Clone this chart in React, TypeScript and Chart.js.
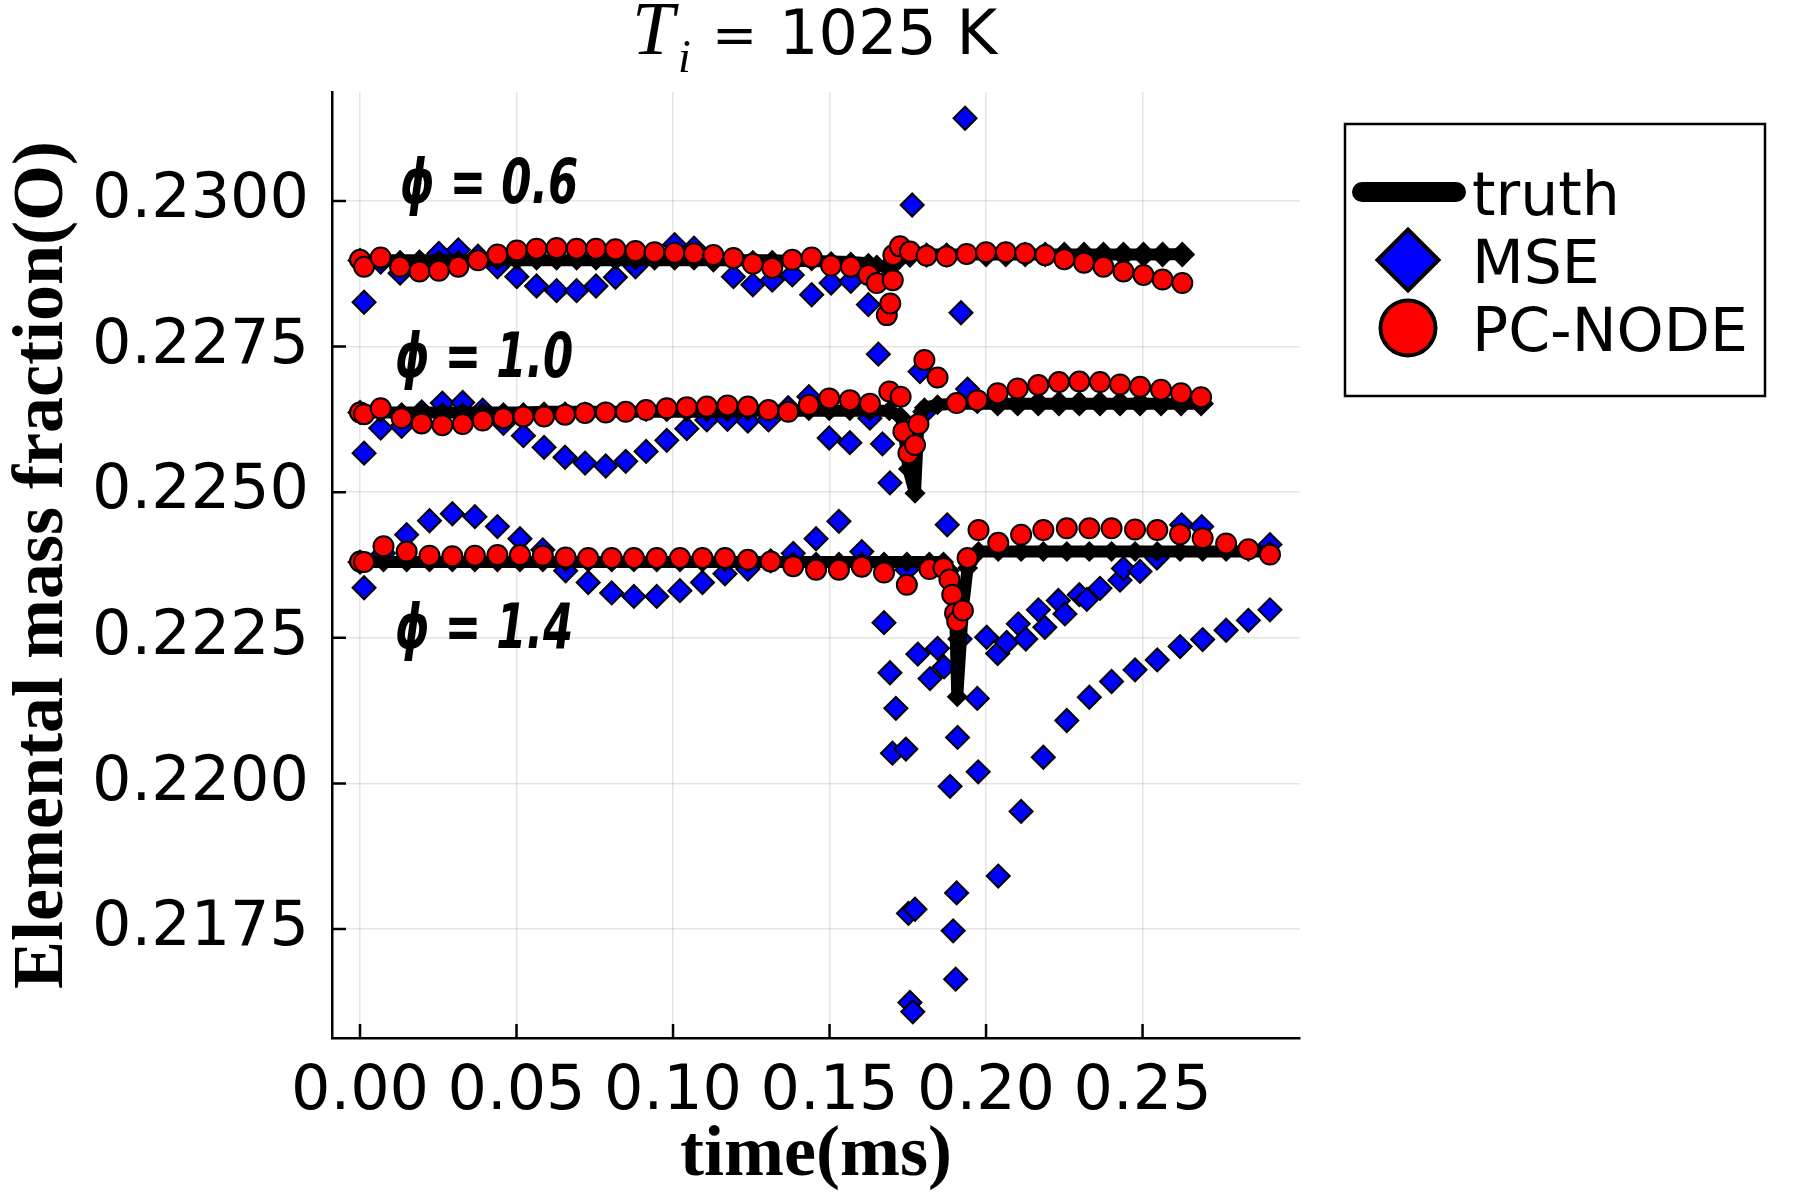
import React, { useEffect, useRef } from "react";
import { Chart, registerables, Plugin } from "chart.js";

Chart.register(...registerables);

// axis ticks
const xTicks = [0, 0.05, 0.1, 0.15, 0.2, 0.25];
const yTicks = [0.2175, 0.22, 0.2225, 0.225, 0.2275, 0.23];

// phi = 0.6
const pc06T = [0, 0.0013, 0.0066, 0.0128, 0.019, 0.0252, 0.0314, 0.0377, 0.0439, 0.0501,
  0.0564, 0.0628, 0.0692, 0.0754, 0.0816, 0.088, 0.0941, 0.1005, 0.1067, 0.1129,
  0.1193, 0.1255, 0.1317, 0.1381, 0.1443, 0.1505, 0.1568, 0.1624, 0.1651, 0.1683,
  0.1694, 0.1702, 0.1704, 0.1725, 0.1757, 0.181, 0.1874, 0.1938, 0.2, 0.2063,
  0.2125, 0.2189, 0.225, 0.2313, 0.2375, 0.2439, 0.2503, 0.2564, 0.2627];
const pc06Y = [0.22899, 0.22887, 0.22903, 0.22887, 0.22879, 0.2288, 0.22887, 0.22898, 0.22908, 0.22915,
  0.22918, 0.22919, 0.22918, 0.22918, 0.22917, 0.22914, 0.22912, 0.22911, 0.2291, 0.22907,
  0.22902, 0.22892, 0.22885, 0.22899, 0.22903, 0.22889, 0.22887, 0.22873, 0.22859, 0.22804,
  0.22824, 0.22864, 0.22907, 0.22922, 0.22913, 0.22906, 0.22905, 0.22909, 0.22912, 0.22912,
  0.2291, 0.22907, 0.229, 0.22894, 0.22887, 0.22879, 0.22873, 0.22865, 0.22859];
const truth06Y = [0.22898, 0.22898, 0.22898, 0.22898, 0.22898, 0.22898, 0.22898, 0.22898, 0.22898, 0.22898,
  0.22898, 0.22898, 0.22898, 0.22898, 0.22898, 0.22898, 0.22898, 0.22898, 0.22898, 0.22898,
  0.22898, 0.22898, 0.22898, 0.22897, 0.22897, 0.22896, 0.22895, 0.22893, 0.2289, 0.22886,
  0.22884, 0.22892, 0.229, 0.22907, 0.22908, 0.22908, 0.22908, 0.22908, 0.22908, 0.22908,
  0.22908, 0.22908, 0.22908, 0.22908, 0.22908, 0.22908, 0.22908, 0.22908, 0.22909];
const mse06T = [0, 0.0013, 0.0066, 0.0128, 0.019, 0.0252, 0.0314, 0.0377, 0.0439, 0.0501,
  0.0564, 0.0628, 0.0692, 0.0754, 0.0816, 0.088, 0.0941, 0.1005, 0.1067, 0.1129,
  0.1193, 0.1255, 0.1317, 0.1381, 0.1443, 0.1505, 0.1568, 0.1624, 0.1656, 0.1725,
  0.1757, 0.181, 0.1874, 0.192, 0.2, 0.2063, 0.2125, 0.2189, 0.225, 0.2313,
  0.2375, 0.2439, 0.2503, 0.2564, 0.2627];
const mse06Y = [0.22898, 0.22826, 0.22895, 0.22876, 0.22895, 0.2291, 0.22916, 0.22905, 0.22887, 0.2287,
  0.22854, 0.22846, 0.22846, 0.22854, 0.22869, 0.22887, 0.22908, 0.22925, 0.22919, 0.22899,
  0.2287, 0.22856, 0.22864, 0.22873, 0.22839, 0.22859, 0.22862, 0.22822, 0.22737, 0.22905,
  0.22907, 0.22907, 0.22907, 0.22808, 0.22908, 0.22908, 0.22908, 0.22908, 0.22908, 0.22908,
  0.22908, 0.22908, 0.22908, 0.22908, 0.22908];

// phi = 1.0
const pc10T = [0, 0.0013, 0.0066, 0.0133, 0.0197, 0.0263, 0.0328, 0.0392, 0.0458, 0.0522,
  0.0588, 0.0655, 0.0719, 0.0785, 0.0849, 0.0914, 0.098, 0.1044, 0.1108, 0.1174,
  0.1239, 0.1305, 0.1368, 0.1434, 0.1499, 0.1565, 0.1629, 0.1691, 0.1727, 0.1736,
  0.1752, 0.1773, 0.1784, 0.1803, 0.1845, 0.1906, 0.1972, 0.2037, 0.2101, 0.2167,
  0.2233, 0.2298, 0.2364, 0.2428, 0.2492, 0.2559, 0.2623, 0.2687];
const pc10Y = [0.22637, 0.22634, 0.22644, 0.22627, 0.22618, 0.22615, 0.22617, 0.22623, 0.22627, 0.2263,
  0.2263, 0.22633, 0.22636, 0.22637, 0.22638, 0.22641, 0.22644, 0.22646, 0.22647, 0.22649,
  0.22647, 0.22641, 0.22638, 0.2265, 0.22661, 0.22658, 0.22652, 0.22673, 0.22664, 0.22604,
  0.22567, 0.22581, 0.22617, 0.22727, 0.22697, 0.22653, 0.22658, 0.2267, 0.22678, 0.22684,
  0.22689, 0.2269, 0.22689, 0.22685, 0.22681, 0.22676, 0.2267, 0.22663];
const truth10Y = [0.22637, 0.22637, 0.22637, 0.22637, 0.22637, 0.22637, 0.22637, 0.22637, 0.22637, 0.22637,
  0.22638, 0.22638, 0.22638, 0.22638, 0.22638, 0.22638, 0.22638, 0.22638, 0.22638, 0.22638,
  0.2264, 0.2264, 0.2264, 0.2264, 0.2264, 0.2264, 0.2264, 0.2264, 0.2263, 0.2261,
  0.2254, 0.22498, 0.2262, 0.22645, 0.2265, 0.22652, 0.22652, 0.22652, 0.22652, 0.22652,
  0.22652, 0.22652, 0.22652, 0.22652, 0.22652, 0.22652, 0.22652, 0.22652];
const mse10T = [0, 0.0013, 0.0066, 0.0133, 0.0197, 0.0263, 0.0328, 0.0392, 0.0458, 0.0522,
  0.0588, 0.0655, 0.0719, 0.0785, 0.0849, 0.0914, 0.098, 0.1044, 0.1108, 0.1174,
  0.1239, 0.1305, 0.1368, 0.1434, 0.1499, 0.1565, 0.1629, 0.1669, 0.1693, 0.1764,
  0.1789, 0.1805, 0.1941, 0.2037, 0.2101, 0.2167, 0.2233, 0.2298, 0.2364, 0.2428,
  0.2492, 0.2559, 0.2623, 0.2687];
const mse10Y = [0.22637, 0.22567, 0.2261, 0.22613, 0.22638, 0.22653, 0.22654, 0.22641, 0.22618, 0.22597,
  0.22577, 0.2256, 0.2255, 0.22545, 0.22553, 0.2257, 0.22589, 0.22609, 0.22624, 0.22625,
  0.22622, 0.22624, 0.22645, 0.22664, 0.22593, 0.22585, 0.22627, 0.22583, 0.22516, 0.22993,
  0.22707, 0.22638, 0.22677, 0.22652, 0.22652, 0.22652, 0.22652, 0.22652, 0.22652, 0.22652,
  0.22652, 0.22652, 0.22652, 0.22652];

// phi = 1.4
const pc14T = [0, 0.0013, 0.0075, 0.0149, 0.0222, 0.0295, 0.0367, 0.0439, 0.0511, 0.0584,
  0.0657, 0.0729, 0.0804, 0.0875, 0.0948, 0.1022, 0.1094, 0.1166, 0.1239, 0.1312,
  0.1384, 0.1457, 0.153, 0.1603, 0.1674, 0.1747, 0.1819, 0.1864, 0.1883, 0.1892,
  0.1901, 0.1908, 0.1926, 0.1941, 0.1976, 0.2039, 0.2112, 0.2183, 0.2258, 0.233,
  0.2401, 0.2476, 0.2547, 0.262, 0.2692, 0.2767, 0.2838, 0.2907];
const pc14Y = [0.22381, 0.2238, 0.22407, 0.22398, 0.22391, 0.2239, 0.22391, 0.22392, 0.22392, 0.22391,
  0.22388, 0.22387, 0.22387, 0.22387, 0.22387, 0.22387, 0.22387, 0.22387, 0.22384, 0.22381,
  0.22373, 0.22367, 0.22367, 0.22372, 0.22362, 0.22341, 0.22368, 0.2237, 0.2235, 0.22324,
  0.22292, 0.22278, 0.22297, 0.22387, 0.22435, 0.22413, 0.22427, 0.22435, 0.22438, 0.22438,
  0.22438, 0.22436, 0.22435, 0.22428, 0.22421, 0.22412, 0.22402, 0.22393];
const truth14Y = [0.2238, 0.2238, 0.2238, 0.2238, 0.2238, 0.2238, 0.2238, 0.2238, 0.2238, 0.2238,
  0.2238, 0.2238, 0.2238, 0.2238, 0.2238, 0.2238, 0.2238, 0.2238, 0.2238, 0.2238,
  0.2238, 0.2238, 0.2238, 0.2238, 0.2238, 0.2238, 0.2238, 0.2238, 0.22365, 0.2234,
  0.223, 0.22149, 0.223, 0.2237, 0.22398, 0.22398, 0.22398, 0.22398, 0.22398, 0.22398,
  0.22398, 0.22398, 0.22398, 0.22398, 0.22398, 0.22398, 0.22398, 0.22398];
const mse14T = [0, 0.0013, 0.0075, 0.0149, 0.0222, 0.0295, 0.0367, 0.0439, 0.0511, 0.0584,
  0.0657, 0.0729, 0.0804, 0.0875, 0.0948, 0.1022, 0.1094, 0.1166, 0.1239, 0.1312,
  0.1384, 0.1457, 0.153, 0.1603, 0.1674, 0.1693, 0.1701, 0.1712, 0.1744, 0.1747,
  0.1752, 0.1757, 0.1766, 0.1773, 0.1782, 0.1821, 0.1845, 0.1866, 0.1876, 0.1885,
  0.1895, 0.1903, 0.1906, 0.1909, 0.1917, 0.1933, 0.1972, 0.1975, 0.2002, 0.2037,
  0.2039, 0.2066, 0.2103, 0.2112, 0.2127, 0.2167, 0.2183, 0.2188, 0.2231, 0.2252,
  0.2258, 0.2298, 0.2322, 0.233, 0.2364, 0.2401, 0.2428, 0.2439, 0.2476, 0.2492,
  0.2546, 0.2547, 0.262, 0.2625, 0.2689, 0.2692, 0.2767, 0.2838, 0.2907, 0.2907];
const mse14Y = [0.2238, 0.22336, 0.22395, 0.22427, 0.22451, 0.22463, 0.22458, 0.22441, 0.2242, 0.22401,
  0.22365, 0.22345, 0.22327, 0.22321, 0.22321, 0.22331, 0.22345, 0.2236, 0.22368, 0.22382,
  0.22395, 0.2242, 0.2245, 0.22398, 0.22276, 0.2219, 0.22052, 0.22129, 0.22059, 0.22367,
  0.21777, 0.21624, 0.21608, 0.21784, 0.22222, 0.2218, 0.22232, 0.222, 0.22444, 0.21995,
  0.21747, 0.21664, 0.21812, 0.22079, 0.22248, 0.23142, 0.22146, 0.2202, 0.22251, 0.22223,
  0.21841, 0.22242, 0.22274, 0.21952, 0.22248, 0.22298, 0.22045, 0.22268, 0.22314, 0.22291,
  0.22108, 0.22324, 0.22316, 0.22148, 0.22335, 0.22175, 0.22349, 0.22369, 0.22195, 0.22364,
  0.22387, 0.22212, 0.22235, 0.22444, 0.22441, 0.22247, 0.22263, 0.2228, 0.22298, 0.2241];

// case labels, anchored at (time, value) of their left baseline
const caseLabels = ["ϕ = 0.6", "ϕ = 1.0", "ϕ = 1.4"];
const caseLabelT = [0.0128, 0.0112, 0.0112];
const caseLabelY = [0.22997, 0.22698, 0.22233];

const X_MIN = -0.00895;
const X_MAX = 0.3003;
const Y_MIN = 0.21563;
const Y_MAX = 0.23187;

const W = 1800;
const H = 1200;
const SANS = '"DejaVu Sans"';
const SERIF = '"Liberation Serif"';

const pts = (ts: number[], ys: number[]) => ts.map((t, i) => ({ x: t, y: ys[i] }));

const pcStyle = {
  showLine: false,
  pointStyle: "circle" as const,
  pointRadius: 10,
  pointBackgroundColor: "rgb(255,0,0)",
  pointBorderColor: "#000",
  pointBorderWidth: 2,
};
const mseStyle = {
  showLine: false,
  pointStyle: "rectRot" as const,
  pointRadius: 11.5,
  pointBackgroundColor: "rgb(0,0,255)",
  pointBorderColor: "#000",
  pointBorderWidth: 2,
};
const truthStyle = {
  showLine: true,
  borderColor: "#000",
  borderWidth: 12,
  borderJoinStyle: "round" as const,
  pointStyle: "rectRot" as const,
  pointRadius: 10.5,
  pointBackgroundColor: "#000",
  pointBorderWidth: 0,
};

// small tick marks pointing into the plot
const innerTicks: Plugin = {
  id: "innerTicks",
  afterDraw(chart) {
    const { ctx, chartArea } = chart;
    const xs = chart.scales.x;
    const ys = chart.scales.y;
    ctx.save();
    ctx.strokeStyle = "#000";
    ctx.lineWidth = 2.5;
    ctx.beginPath();
    xs.ticks.forEach((t) => {
      const px = xs.getPixelForValue(t.value);
      ctx.moveTo(px, chartArea.bottom);
      ctx.lineTo(px, chartArea.bottom - 14);
    });
    ys.ticks.forEach((t) => {
      const py = ys.getPixelForValue(t.value);
      ctx.moveTo(chartArea.left, py);
      ctx.lineTo(chartArea.left + 14, py);
    });
    ctx.stroke();
    ctx.restore();
  },
};

const caseText: Plugin = {
  id: "caseText",
  afterDraw(chart) {
    const { ctx } = chart;
    const xs = chart.scales.x;
    const ys = chart.scales.y;
    ctx.save();
    ctx.fillStyle = "#000";
    ctx.textBaseline = "alphabetic";
    ctx.textAlign = "left";
    ctx.font = `italic bold 62px ${SANS}`;
    caseLabels.forEach((txt, i) => {
      const px = xs.getPixelForValue(caseLabelT[i]);
      const py = ys.getPixelForValue(caseLabelY[i]);
      ctx.save();
      ctx.translate(px, py);
      ctx.scale(0.7, 1);
      ctx.fillText(txt, 0, 0);
      ctx.restore();
    });
    ctx.restore();
  },
};

const headline: Plugin = {
  id: "headline",
  afterDraw(chart) {
    const { ctx, chartArea } = chart;
    const start = (chartArea.left + chartArea.right) / 2 - 184;
    ctx.save();
    ctx.fillStyle = "#000";
    ctx.textBaseline = "alphabetic";
    ctx.textAlign = "left";
    ctx.font = `italic 76px ${SERIF}`;
    ctx.fillText("T", start, 54);
    ctx.font = `italic 46px ${SERIF}`;
    ctx.fillText("i", start + 46, 72);
    ctx.font = `54px "DejaVu Serif"`;
    ctx.fillText("=", start + 80, 54);
    ctx.font = `62px ${SANS}`;
    ctx.fillText("1025 K", start + 147, 54);
    ctx.restore();
  },
};

const legendBox: Plugin = {
  id: "legendBox",
  afterDraw(chart) {
    const { ctx, chartArea } = chart;
    const bx = chartArea.right + 45;
    const by = 124;
    ctx.save();
    ctx.fillStyle = "#fff";
    ctx.fillRect(bx, by, 420, 272);
    ctx.strokeStyle = "#000";
    ctx.lineWidth = 2.5;
    ctx.strokeRect(bx, by, 420, 272);

    // truth line
    ctx.lineCap = "round";
    ctx.lineWidth = 20;
    ctx.beginPath();
    ctx.moveTo(bx + 17, by + 68);
    ctx.lineTo(bx + 111, by + 68);
    ctx.stroke();

    // MSE diamond
    const dx = bx + 63;
    const dy = by + 136;
    ctx.lineCap = "butt";
    ctx.lineWidth = 4;
    ctx.fillStyle = "rgb(0,0,255)";
    ctx.beginPath();
    ctx.moveTo(dx - 30.5, dy);
    ctx.lineTo(dx, dy - 30.5);
    ctx.lineTo(dx + 30.5, dy);
    ctx.lineTo(dx, dy + 30.5);
    ctx.closePath();
    ctx.fill();
    ctx.stroke();

    // PC-NODE circle
    ctx.fillStyle = "rgb(255,0,0)";
    ctx.beginPath();
    ctx.arc(bx + 63, by + 204, 27.5, 0, Math.PI * 2);
    ctx.fill();
    ctx.stroke();

    ctx.fillStyle = "#000";
    ctx.font = `60px ${SANS}`;
    ctx.textBaseline = "alphabetic";
    ctx.fillText("truth", bx + 127, by + 91);
    ctx.fillText("MSE", bx + 127, by + 159);
    ctx.fillText("PC-NODE", bx + 127, by + 227);
    ctx.restore();
  },
};

const App: React.FC = () => {
  const canvasRef = useRef<HTMLCanvasElement>(null);

  useEffect(() => {
    if (!canvasRef.current) return;
    const ctx = canvasRef.current.getContext("2d")!;

    // first dataset is painted last: PC-NODE on top, then truth, then MSE
    const chart = new Chart(ctx, {
      type: "scatter",
      data: {
        datasets: [
          { label: "PC-NODE", data: pts(pc06T, pc06Y), ...pcStyle },
          { label: "PC-NODE", data: pts(pc10T, pc10Y), ...pcStyle },
          { label: "PC-NODE", data: pts(pc14T, pc14Y), ...pcStyle },
          { label: "truth", data: pts(pc06T, truth06Y), ...truthStyle },
          { label: "truth", data: pts(pc10T, truth10Y), ...truthStyle },
          { label: "truth", data: pts(pc14T, truth14Y), ...truthStyle },
          { label: "MSE", data: pts(mse06T, mse06Y), ...mseStyle },
          { label: "MSE", data: pts(mse10T, mse10Y), ...mseStyle },
          { label: "MSE", data: pts(mse14T, mse14Y), ...mseStyle },
        ],
      },
      options: {
        responsive: false,
        devicePixelRatio: 1,
        animation: false,
        layout: { padding: { top: 92, right: 500, bottom: 0, left: 0 } },
        plugins: {
          legend: { display: false },
          tooltip: { enabled: false },
        },
        scales: {
          x: {
            type: "linear",
            min: X_MIN,
            max: X_MAX,
            afterBuildTicks: (s) => {
              s.ticks = xTicks.map((v) => ({ value: v }));
            },
            afterFit: (s) => {
              s.height = 162;
            },
            ticks: {
              callback: (v) => Number(v).toFixed(2),
              font: { family: SANS, size: 62 },
              color: "#000",
              padding: 18,
              maxRotation: 0,
              autoSkip: false,
            },
            grid: { color: "rgba(0,0,0,0.1)", lineWidth: 1.5, drawTicks: false },
            border: { color: "#000", width: 2.5 },
            title: {
              display: true,
              text: "time(ms)",
              font: { family: SERIF, size: 72, weight: "bold" },
              color: "#000",
              padding: 0,
            },
          },
          y: {
            type: "linear",
            min: Y_MIN,
            max: Y_MAX,
            afterBuildTicks: (s) => {
              s.ticks = yTicks.map((v) => ({ value: v }));
            },
            afterFit: (s) => {
              s.width = 332;
            },
            ticks: {
              callback: (v) => Number(v).toFixed(4),
              font: { family: SANS, size: 62 },
              color: "#000",
              padding: 23,
              autoSkip: false,
            },
            grid: { color: "rgba(0,0,0,0.1)", lineWidth: 1.5, drawTicks: false },
            border: { color: "#000", width: 2.5 },
            title: {
              display: true,
              text: "Elemental mass fraction(O)",
              font: { family: SERIF, size: 72, weight: "bold" },
              color: "#000",
              padding: 0,
            },
          },
        },
      },
      plugins: [innerTicks, caseText, headline, legendBox],
    });

    return () => {
      chart.destroy();
    };
  }, []);

  return (
    <div style={{ position: "absolute", left: 0, top: 0, width: W, height: H, background: "#fff" }}>
      <canvas ref={canvasRef} width={W} height={H} style={{ width: W, height: H }} />
    </div>
  );
};

export default App;
